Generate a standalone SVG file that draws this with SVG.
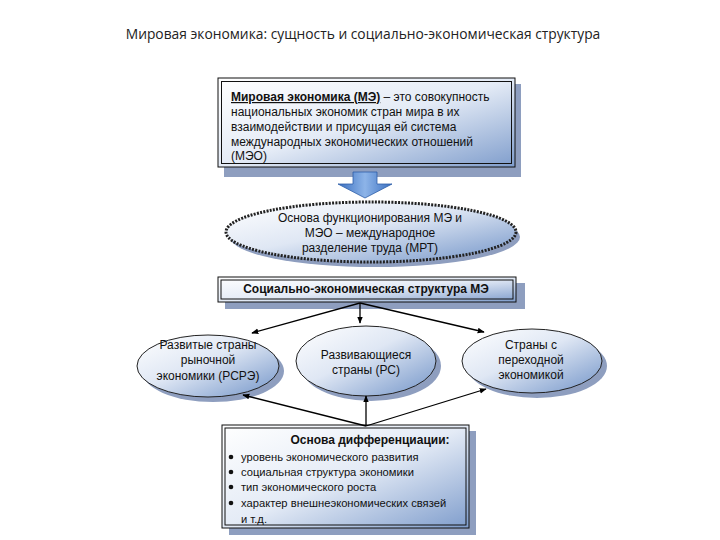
<svg xmlns="http://www.w3.org/2000/svg" width="720" height="540" viewBox="0 0 720 540">
<defs>
<linearGradient id="gbox" x1="0" y1="0" x2="1" y2="1">
<stop offset="0" stop-color="#ffffff"/>
<stop offset="0.5" stop-color="#e4ebf6"/>
<stop offset="1" stop-color="#7f9dcc"/>
</linearGradient>
<linearGradient id="gell" x1="0" y1="0" x2="1" y2="1">
<stop offset="0" stop-color="#ffffff"/>
<stop offset="0.45" stop-color="#dfe7f4"/>
<stop offset="1" stop-color="#7294c8"/>
</linearGradient>
<linearGradient id="garrow" x1="0" y1="0" x2="1" y2="0">
<stop offset="0" stop-color="#3a6fc0"/>
<stop offset="0.5" stop-color="#8db4e8"/>
<stop offset="1" stop-color="#3a6fc0"/>
</linearGradient>
<marker id="ah" viewBox="0 0 10 10" refX="9" refY="5" markerWidth="7" markerHeight="7" orient="auto" markerUnits="userSpaceOnUse">
<path d="M0,1 L10,5 L0,9 Z" fill="#000"/>
</marker>
</defs>
<style>
text{font-family:"Liberation Sans",Arial,sans-serif;font-size:12px;fill:#111}
.title{font-family:"Open Sans","Liberation Sans",sans-serif;font-size:13.8px;fill:#222}
.shadow{fill:#8e9ebf}
.box{fill:url(#gbox);stroke:#111;stroke-width:1}
.inner{fill:none;stroke:#111;stroke-width:1}
.ell{fill:url(#gell);stroke:#222;stroke-width:1}
.b{font-weight:bold}
.c{text-anchor:middle}
.li{font-size:11.2px}
.dot{fill:#111}
.conn{stroke:#000;stroke-width:1.3;fill:none;marker-end:url(#ah)}
</style>
<rect width="720" height="540" fill="#fff"/>
<text class="title c" x="363" y="39">Мировая экономика: сущность и социально-экономическая структура</text>

<g id="definition">
<rect class="shadow" x="224" y="84" width="297" height="93"/>
<rect class="box" x="218" y="78" width="297" height="89"/>
<rect class="inner" x="221.5" y="81.5" width="290" height="82"/>
<text x="231" y="101"><tspan class="b" text-decoration="underline">Мировая экономика (МЭ)</tspan> – это совокупность</text>
<text x="231" y="116">национальных экономик стран мира в их</text>
<text x="231" y="131">взаимодействии и присущая ей система</text>
<text x="231" y="146">международных экономических отношений</text>
<text x="231" y="160">(МЭО)</text>
</g>

<g id="block-arrow">
<path d="M353,172 L377,172 L377,184 L392,184 L365,198 L338,184 L353,184 Z" fill="url(#garrow)" stroke="#2d5ea8" stroke-width="0.8"/>
</g>

<g id="basis">
<ellipse class="shadow" cx="375" cy="237" rx="145" ry="30"/>
<ellipse cx="371" cy="232" rx="145" ry="30" fill="url(#gell)" stroke="#222" stroke-width="3" stroke-dasharray="2 1.3"/>
<text class="c" x="370" y="222">Основа функционирования МЭ и</text>
<text class="c" x="370" y="237">МЭО – международное</text>
<text class="c" x="370" y="252">разделение труда (МРТ)</text>
</g>

<g id="structure">
<rect class="shadow" x="225" y="283" width="300" height="26"/>
<rect class="box" x="218" y="277" width="298" height="25"/>
<rect class="inner" x="221" y="280" width="292" height="19"/>
<text class="c b" x="366" y="293">Социально-экономическая структура МЭ</text>
</g>

<g id="developed">
<ellipse class="shadow" cx="213" cy="371" rx="71" ry="31"/>
<ellipse class="ell" cx="208" cy="366" rx="71" ry="31"/>
<text class="c" x="208" y="349">Развитые страны</text>
<text class="c" x="208" y="364">рыночной</text>
<text class="c" x="208" y="380">экономики (РСРЭ)</text>
</g>

<g id="developing">
<ellipse class="shadow" cx="371" cy="366" rx="70" ry="35"/>
<ellipse class="ell" cx="366" cy="361" rx="70" ry="35"/>
<text class="c" x="366" y="359">Развивающиеся</text>
<text class="c" x="366" y="374">страны (РС)</text>
</g>

<g id="transition">
<ellipse class="shadow" cx="537" cy="366" rx="70" ry="32"/>
<ellipse class="ell" cx="532" cy="361" rx="70" ry="32"/>
<text class="c" x="531" y="349">Страны с</text>
<text class="c" x="531" y="364">переходной</text>
<text class="c" x="531" y="379">экономикой</text>
</g>

<g id="differentiation">
<rect class="shadow" x="229" y="431" width="247" height="104"/>
<rect class="box" x="222" y="425" width="247" height="103"/>
<rect class="inner" x="225" y="428" width="241" height="97"/>
<text class="c b" x="370" y="444">Основа дифференциации:</text>
<circle class="dot" cx="231" cy="457" r="2.3"/><text class="li" x="241" y="461">уровень экономического развития</text>
<circle class="dot" cx="231" cy="472" r="2.3"/><text class="li" x="241" y="476">социальная структура экономики</text>
<circle class="dot" cx="231" cy="487" r="2.3"/><text class="li" x="241" y="491">тип экономического роста</text>
<circle class="dot" cx="231" cy="503" r="2.3"/><text class="li" x="241" y="507">характер внешнеэкономических связей</text>
<text class="li" x="241" y="523">и т.д.</text>
</g>

<g id="connectors">
<line class="conn" x1="360" y1="303" x2="252" y2="333"/>
<line class="conn" x1="360" y1="303" x2="360" y2="323"/>
<line class="conn" x1="360" y1="303" x2="484" y2="332"/>
<line class="conn" x1="366" y1="426" x2="243" y2="395"/>
<line class="conn" x1="366" y1="426" x2="366" y2="396"/>
<line class="conn" x1="366" y1="426" x2="486" y2="389"/>
</g>
</svg>
